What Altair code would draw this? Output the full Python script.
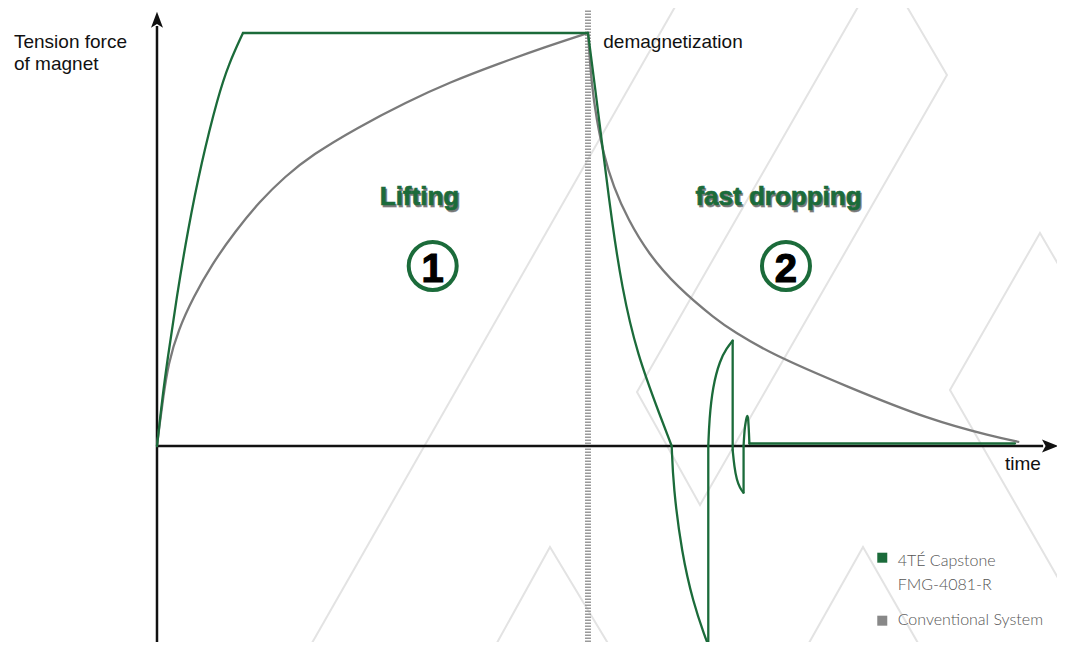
import altair as alt
import pandas as pd

# ---------------- data (time t, tension force F) ----------------
# 4TE Capstone FMG-4081-R : curve pieces (seg id, t, F)
green_seg = (["lift"] * 9 + ["hold"] * 2 + ["drop"] * 8 + ["neg"] * 6 + ["v1"] * 2 + ["rise"] * 6
             + ["v2"] * 2 + ["dip"] * 5 + ["v3"] * 2 + ["spike"] * 7 + ["tail"] * 2)
green_t = [0, 1.28, 2.31, 4.58, 7.16, 10.26, 14.12, 16.70, 19.95,
           19.95, 100.0,
           100.0, 101.62, 103.55, 105.5, 107.82, 111.3, 117.1, 119.42,
           119.42, 119.79, 121.74, 124.43, 127.15, 127.91,
           127.91, 127.91,
           127.91, 128.14, 128.93, 130.63, 132.18, 133.57,
           133.57, 133.57,
           133.57, 133.95, 134.5, 135.27, 136.05,
           136.1, 136.1,
           136.1, 136.3, 136.7, 137.03, 137.2, 137.35, 137.45,
           137.45, 199.07]
green_F = [0, 11.94, 20.02, 36.15, 52.30, 68.45, 84.58, 92.66, 100,
           100, 100,
           100, 87.0, 70.9, 54.7, 38.6, 22.4, 6.3, 0,
           0, -9.85, -25.9, -38.0, -46.2, -48.2,
           -48.2, 0,
           0, 6.3, 14.4, 20.8, 23.7, 25.5,
           25.5, -1.0,
           -1.0, -5.0, -8.2, -10.2, -11.3,
           -11.3, 0,
           0, 3.9, 6.7, 7.6, 6.3, 3.1, 0.6,
           0.6, 0.6]

# Conventional System
gray_seg = ["lift"] * 17 + ["drop"] * 15
gray_t = [0, 0.46, 1.46, 2.62, 4.94, 8.42, 12.69, 18.10, 23.90, 29.70, 35.96, 46.33, 57.94, 67.98, 79.58, 90.02, 100,
          100, 100.86, 102.02, 103.55, 105.87, 109.35, 113.99, 120.58, 129.86, 133.71, 142.23, 160.02, 179.35, 194.04, 199.84]
gray_F = [0, 4.1, 11.9, 20.0, 28.1, 36.0, 43.9, 51.9, 59.3, 65.25, 70.46, 77.0, 83.3, 88.1, 92.7, 96.6, 100,
          100, 87.0, 79.0, 70.9, 62.8, 54.7, 46.6, 38.6, 30.5, 27.8, 22.4, 14.4, 6.3, 2.3, 1.0]

# decorative background pattern (seg id, t, F)
bg_seg = ["a"] * 2 + ["b"] * 5 + ["c"] * 4 + ["d"] * 3 + ["e"] * 3
bg_t = [35.03, 121.11,
        163.57, 111.37, 125.99, 183.29, 173.09,
        210.67, 204.87, 183.99, 210.67,
        77.96, 91.18, 105.57,
        150.35, 163.81, 177.49]
bg_F = [-49.4, 108.0,
        108.0, 13.08, -14.29, 89.83, 108.0,
        41.16, 51.57, 13.56, -34.87,
        -49.4, -24.46, -49.4,
        -49.4, -24.46, -49.4]

# annotations
DEMAG_T = 100.0
label_text = ["Tension force", "of magnet", "demagnetization", "time"]
label_t = [-33.18, -33.18, 103.55, 196.75]
label_F = [96.44, 90.92, 96.30, -5.81]

phase_text = ["Lifting", "fast dropping"]
phase_t = [60.9, 144.2]
phase_F = [58.35, 58.35]
num_text = ["1", "2"]
num_t = [63.97, 145.94]
circle_F = [43.58, 43.58]
num_F = [39.78, 39.78]

legend_series = ["4TÉ Capstone", "Conventional System"]
legend_sq_t = [168.28, 168.28]
legend_sq_F = [-27.05, -42.30]
legend_lines = ["4TÉ Capstone", "FMG-4081-R", "Conventional System"]
legend_txt_t = [171.86, 171.86, 171.86]
legend_txt_F = [-28.98, -34.87, -43.34]

GREEN = "#1b6b3a"
GRAY = "#7a7a7a"

X_DOMAIN = [-34.57, 208.82]
Y_DOMAIN = [-47.46, 106.05]
xs = alt.Scale(domain=X_DOMAIN, nice=False, zero=False)
ys = alt.Scale(domain=Y_DOMAIN, nice=False, zero=False)


def X(f="t"):
    return alt.X(f + ":Q", scale=xs, axis=None)


def Y(f="F"):
    return alt.Y(f + ":Q", scale=ys, axis=None)


def seg_df(seg, t, F):
    return pd.DataFrame({"seg": seg, "t": t, "F": F, "i": list(range(len(t)))})


bg = alt.Chart(seg_df(bg_seg, bg_t, bg_F)).mark_line(
    color="#e3e3e3", strokeWidth=2, clip=True
).encode(x=X(), y=Y(), detail="seg:N", order="i:Q")

demag = alt.Chart(pd.DataFrame({"t": [DEMAG_T], "F": [Y_DOMAIN[0]], "F2": [105.6]})).mark_rule(
    color="#9a9a9a", strokeWidth=6, strokeDash=[1.5, 1.5]
).encode(x=X(), y=Y(), y2="F2:Q")

yaxis = alt.Chart(pd.DataFrame({"t": [0.0], "F": [Y_DOMAIN[0]], "F2": [101.7]})).mark_rule(
    color="#111111", strokeWidth=2.5
).encode(x=X(), y=Y(), y2="F2:Q")

xaxis = alt.Chart(pd.DataFrame({"t": [0.0], "t2": [205.6], "F": [0.0]})).mark_rule(
    color="#111111", strokeWidth=2.5
).encode(x=X(), x2="t2:Q", y=Y())

arrow_up = alt.Chart(pd.DataFrame({"t": [0.0], "F": [103.22]})).mark_point(
    shape="M0,-1L0.75,1L0,0.55L-0.75,1Z", filled=True, color="#111111", size=256, opacity=1
).encode(x=X(), y=Y())

arrow_right = alt.Chart(pd.DataFrame({"t": [207.19], "F": [0.0]})).mark_point(
    shape="M1,0L-1,0.8L-0.55,0L-1,-0.8Z", filled=True, color="#111111", size=256, opacity=1
).encode(x=X(), y=Y())

gray_line = alt.Chart(seg_df(gray_seg, gray_t, gray_F)).mark_line(
    color=GRAY, strokeWidth=2.3, interpolate="basis", strokeCap="round", strokeJoin="round"
).encode(x=X(), y=Y(), detail="seg:N", order="i:Q")

green_line = alt.Chart(seg_df(green_seg, green_t, green_F)).mark_line(
    color=GREEN, strokeWidth=2.3, interpolate="basis", strokeCap="round", strokeJoin="round"
).encode(x=X(), y=Y(), detail="seg:N", order="i:Q")

labels = alt.Chart(pd.DataFrame({"txt": label_text, "t": label_t, "F": label_F})).mark_text(
    font="Liberation Sans", fontSize=19, color="#111111", align="left", baseline="alphabetic"
).encode(x=X(), y=Y(), text="txt:N")

phase_df = pd.DataFrame({"txt": phase_text, "t": phase_t, "F": phase_F})
phase_shadow = alt.Chart(phase_df).mark_text(
    font="Liberation Sans", fontSize=26, fontWeight="bold", color="#333333", opacity=0.65,
    stroke="#333333", strokeWidth=0.8, strokeOpacity=0.6,
    align="center", baseline="alphabetic", dx=1.5, dy=1.5
).encode(x=X(), y=Y(), text="txt:N")
phase = alt.Chart(phase_df).mark_text(
    font="Liberation Sans", fontSize=26, fontWeight="bold", color=GREEN,
    stroke=GREEN, strokeWidth=0.7,
    align="center", baseline="alphabetic"
).encode(x=X(), y=Y(), text="txt:N")

circles = alt.Chart(pd.DataFrame({"t": num_t, "F": circle_F})).mark_point(
    shape="circle", size=2304, filled=False, stroke=GREEN, strokeWidth=4, opacity=1
).encode(x=X(), y=Y())

nums = alt.Chart(pd.DataFrame({"txt": num_text, "t": num_t, "F": num_F})).mark_text(
    font="Liberation Sans", fontSize=40, fontWeight="bold", color="#000000",
    stroke="#000000", strokeWidth=1.2,
    align="center", baseline="alphabetic"
).encode(x=X(), y=Y(), text="txt:N")

leg_sq = alt.Chart(pd.DataFrame({"s": legend_series, "t": legend_sq_t, "F": legend_sq_F})).mark_point(
    shape="square", size=100, filled=True, opacity=1
).encode(
    x=X(), y=Y(),
    color=alt.Color("s:N", scale=alt.Scale(domain=legend_series, range=[GREEN, "#888888"]), legend=None),
)

leg_txt = alt.Chart(pd.DataFrame({"txt": legend_lines, "t": legend_txt_t, "F": legend_txt_F})).mark_text(
    font="Lato", fontSize=16, fontWeight=300, color="#555555", align="left", baseline="alphabetic"
).encode(x=X(), y=Y(), text="txt:N")

chart = alt.layer(
    bg, demag, yaxis, xaxis, arrow_up, arrow_right, gray_line, green_line,
    labels, phase_shadow, phase, circles, nums, leg_sq, leg_txt
).properties(
    width=1049, height=634, padding=0,
    autosize=alt.AutoSizeParams(type="none"),
    background="white",
).configure_view(stroke=None)

chart.save("out.html", embed_options={"renderer": "svg", "actions": False})
